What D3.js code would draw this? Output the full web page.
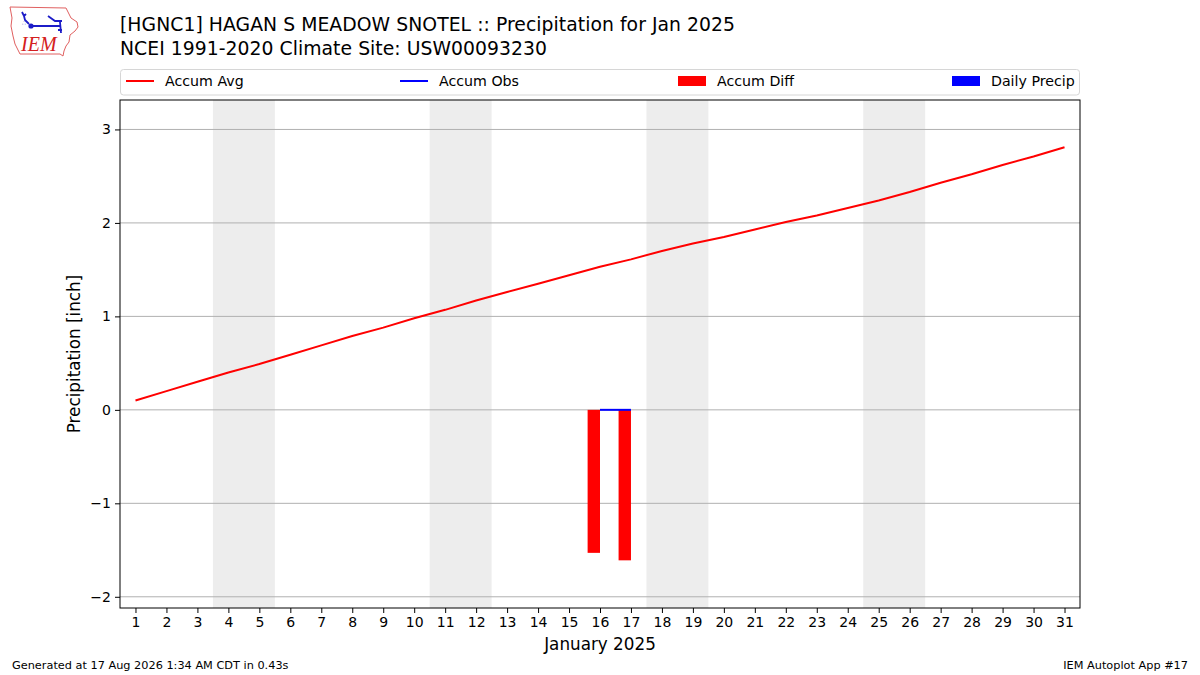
<!DOCTYPE html>
<html>
<head>
<meta charset="utf-8">
<script src="https://cdn.jsdelivr.net/npm/d3@7"></script>
<style>
  body { margin: 0; background: #fff; }
  svg { font-family: "DejaVu Sans", sans-serif; }
</style>
</head>
<body>
<svg id="chart" width="1200" height="675"></svg>
<script>
// chart data
const days = [1, 2, 3, 4, 5, 6, 7, 8, 9, 10, 11, 12, 13, 14, 15, 16,
              17, 18, 19, 20, 21, 22, 23, 24, 25, 26, 27, 28, 29, 30, 31]
const accumAvg = [0.10, 0.20, 0.30, 0.40, 0.49, 0.59, 0.69, 0.79, 0.88, 0.98,
                  1.07, 1.17, 1.26, 1.35, 1.44, 1.53, 1.61, 1.70, 1.78, 1.85,
                  1.93, 2.01, 2.08, 2.16, 2.24, 2.33, 2.43, 2.52, 2.62, 2.71, 2.81]
const obsDays = [16, 17]
const accumObs = [0.0, 0.0]
const accumDiff = [-1.53, -1.61]
const dailyPrecip = [0.0, 0.0]
const weekends = [[4, 5], [11, 12], [18, 19], [25, 26]]
const yTicks = [-2, -1, 0, 1, 2, 3]
const legendItems = [
    { label: "Accum Avg", kind: "line", color: "red" },
    { label: "Accum Obs", kind: "line", color: "blue" },
    { label: "Accum Diff", kind: "patch", color: "red" },
    { label: "Daily Precip", kind: "patch", color: "blue" }
]

const svg = d3.select("#chart")
const pLeft = 120, pRight = 1080, pTop = 100, pBottom = 608

let x = d3.scaleLinear().domain([0.5, 31.5]).range([pLeft, pRight])
let y = d3.scaleLinear().domain([-2.12, 3.315]).range([pBottom, pTop])

// weekend shading
svg.append("g")
    .selectAll("rect")
    .data(weekends)
    .join("rect")
    .attr("x", d => x(d[0] - 0.5))
    .attr("width", d => x(d[1] + 0.5) - x(d[0] - 0.5))
    .attr("y", pTop)
    .attr("height", pBottom - pTop)
    .attr("fill", "#ededed")

// grid
svg.append("g")
    .selectAll("line")
    .data(yTicks)
    .join("line")
    .attr("x1", pLeft).attr("x2", pRight)
    .attr("y1", d => y(d)).attr("y2", d => y(d))
    .attr("stroke", "#b0b0b0")
    .attr("stroke-width", 1)

// accum diff bars (left of the day)
svg.append("g")
    .selectAll("rect")
    .data(obsDays.map((d, i) => ({ day: d, v: accumDiff[i] })))
    .join("rect")
    .attr("x", d => x(d.day - 0.4))
    .attr("width", d => x(d.day) - x(d.day - 0.4))
    .attr("y", d => y(Math.max(0, d.v)))
    .attr("height", d => Math.abs(y(d.v) - y(0)))
    .attr("fill", "red")

// daily precip bars (right of the day)
svg.append("g")
    .selectAll("rect")
    .data(obsDays.map((d, i) => ({ day: d, v: dailyPrecip[i] })))
    .join("rect")
    .attr("x", d => x(d.day))
    .attr("width", d => x(d.day + 0.4) - x(d.day))
    .attr("y", d => y(d.v))
    .attr("height", d => y(0) - y(d.v))
    .attr("fill", "blue")

let line = d3.line().x(d => x(d[0])).y(d => y(d[1]))

svg.append("path")
    .datum(days.map((d, i) => [d, accumAvg[i]]))
    .attr("d", line)
    .attr("fill", "none")
    .attr("stroke", "red")
    .attr("stroke-width", 2)

svg.append("path")
    .datum(obsDays.map((d, i) => [d, accumObs[i]]))
    .attr("d", line)
    .attr("fill", "none")
    .attr("stroke", "blue")
    .attr("stroke-width", 2)

// axes
let xAxis = svg.append("g")
    .attr("transform", `translate(0,${pBottom})`)
    .call(d3.axisBottom(x).tickValues(days).tickFormat(d3.format("d")).tickSize(5).tickPadding(4))
let yAxis = svg.append("g")
    .attr("transform", `translate(${pLeft},0)`)
    .call(d3.axisLeft(y).tickValues(yTicks).tickFormat(d => d < 0 ? "\u2212" + Math.abs(d) : d).tickSize(5).tickPadding(4))

;[xAxis, yAxis].forEach(a => {
    a.select(".domain").remove()
    a.selectAll("text").attr("font-size", 14).attr("fill", "#000").attr("font-family", "DejaVu Sans")
    a.selectAll("line").attr("stroke", "#000")
})

svg.append("rect")
    .attr("x", pLeft).attr("y", pTop)
    .attr("width", pRight - pLeft).attr("height", pBottom - pTop)
    .attr("fill", "none").attr("stroke", "#000").attr("stroke-width", 1)

svg.append("text")
    .attr("x", (pLeft + pRight) / 2).attr("y", 650)
    .attr("text-anchor", "middle").attr("font-size", 16.8)
    .text("January 2025")

svg.append("text")
    .attr("transform", `translate(80,${(pTop + pBottom) / 2}) rotate(-90)`)
    .attr("text-anchor", "middle").attr("font-size", 16.8)
    .text("Precipitation [inch]")

// titles
svg.append("text").attr("x", 120).attr("y", 31).attr("font-size", 18.8)
    .attr("textLength", 615).attr("lengthAdjust", "spacing")
    .text("[HGNC1] HAGAN S MEADOW SNOTEL :: Precipitation for Jan 2025")
svg.append("text").attr("x", 120).attr("y", 55).attr("font-size", 18.8)
    .attr("textLength", 427).attr("lengthAdjust", "spacing")
    .text("NCEI 1991-2020 Climate Site: USW00093230")

// legend
svg.append("rect")
    .attr("x", 120.5).attr("y", 69.5).attr("width", 959).attr("height", 25.5)
    .attr("rx", 3).attr("fill", "#fff").attr("stroke", "#d6d6d6")
let legX = [126, 400, 678, 952]
let leg = svg.append("g").selectAll("g")
    .data(legendItems)
    .join("g")
    .attr("transform", (d, i) => `translate(${legX[i]},81)`)
leg.filter(d => d.kind == "line").append("line")
    .attr("x1", 0).attr("x2", 28)
    .attr("stroke", d => d.color).attr("stroke-width", 2)
leg.filter(d => d.kind == "patch").append("rect")
    .attr("x", 0).attr("y", -5).attr("width", 28).attr("height", 10)
    .attr("fill", d => d.color)
leg.append("text")
    .attr("x", 39).attr("y", 5)
    .attr("font-size", 14.2)
    .text(d => d.label)

// footer
svg.append("text").attr("x", 12).attr("y", 669).attr("font-size", 11.3)
    .text("Generated at 17 Aug 2026 1:34 AM CDT in 0.43s")
svg.append("text").attr("x", 1188).attr("y", 669).attr("font-size", 11.3)
    .attr("text-anchor", "end")
    .text("IEM Autoplot App #17")

// rough IEM logo
let logo = svg.append("g")
logo.append("path")
    .attr("d", "M10,7 L66,8 L68,12 L71,18 L77,22 L78,27 L75,31 L70,35 L69,42 L66,46 L64,51 L63,56 L60,54 L20,54 L18,50 L15,44 L13,36 L11,26 L12,18 Z")
    .attr("fill", "none").attr("stroke", "#e06060").attr("stroke-width", 1)
logo.append("path")
    .attr("d", "M22,12 L24,16 L26,14 M24,16 L25,20 L29,24 M31,26 L60,26 M48,16 L55,21 L59,21 M54,21 L62,21 M60,22 L61,33 M58,30 L62,30")
    .attr("fill", "none").attr("stroke", "#1c1cc8").attr("stroke-width", 1.8)
logo.append("circle").attr("cx", 31).attr("cy", 26).attr("r", 2.6).attr("fill", "#1c1cc8")
logo.append("text").attr("x", 22).attr("y", 25).attr("font-size", 6).attr("fill", "#1c1cc8").text("∴")
logo.append("text").attr("x", 21).attr("y", 51)
    .attr("font-family", "Liberation Serif").attr("font-style", "italic")
    .attr("font-size", 20).attr("fill", "#d42020")
    .text("IEM")
</script>
</body>
</html>
